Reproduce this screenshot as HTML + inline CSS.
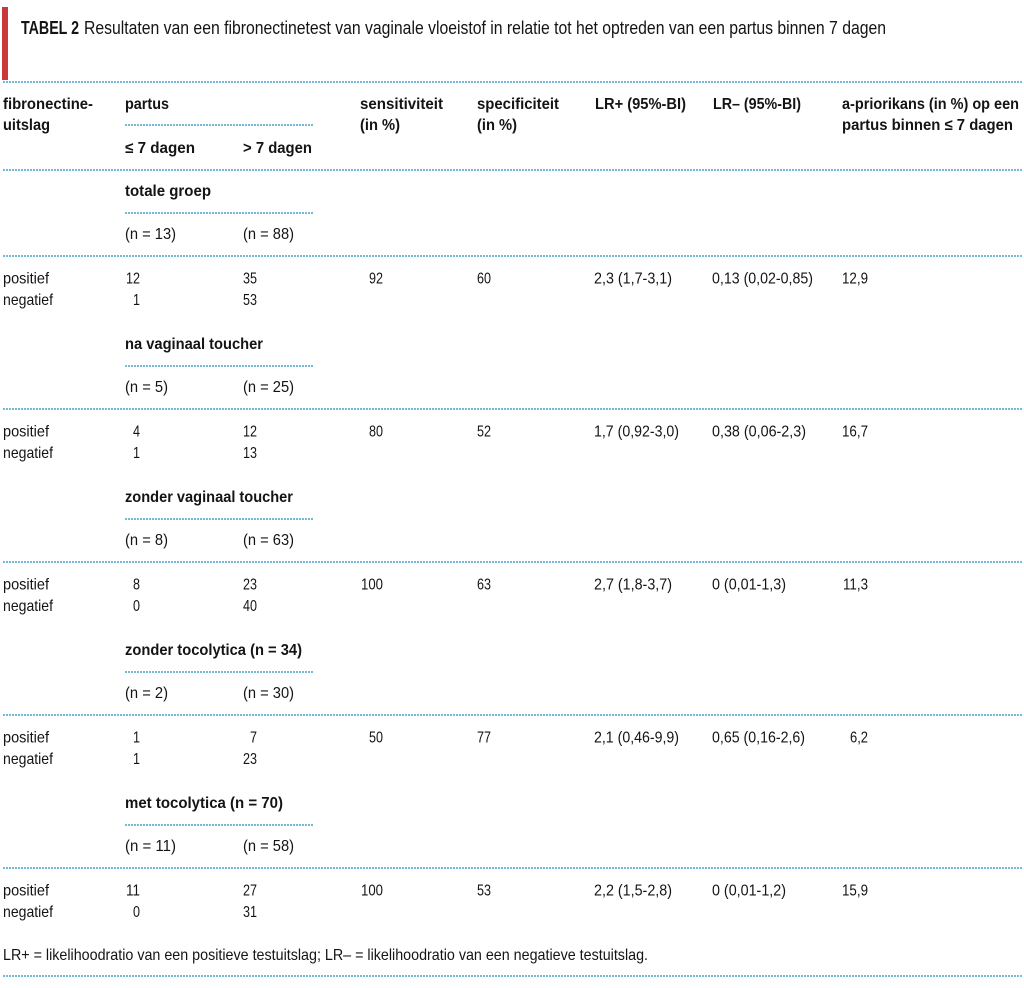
<!DOCTYPE html>
<html><head><meta charset="utf-8"><style>
html,body{margin:0;padding:0;background:#fff;}
svg{display:block;}
text{font-family:"Liberation Sans Narrow","Liberation Sans",sans-serif;fill:#141414;font-size:16px;}
.b{font-weight:bold;font-size:15.5px;}
.t{font-size:18px;}
.d{stroke:#3e9fc3;stroke-width:1.9;stroke-dasharray:0 3;stroke-linecap:round;fill:none;}
</style></head><body>
<svg width="1024" height="988" viewBox="0 0 1024 988" xmlns="http://www.w3.org/2000/svg">
<rect x="2" y="7" width="6" height="73" fill="#c9383a"/>
<text class="t b" x="21" y="34" textLength="58" lengthAdjust="spacingAndGlyphs" style="font-size:18px">TABEL 2</text>
<text class="t" x="84" y="34" textLength="802" lengthAdjust="spacingAndGlyphs">Resultaten van een fibronectinetest van vaginale vloeistof in relatie tot het optreden van een partus binnen 7 dagen</text>

<!-- full-width dotted lines -->
<line class="d" x1="4" y1="82" x2="1024" y2="82"/>
<line class="d" x1="4" y1="170" x2="1024" y2="170"/>
<line class="d" x1="4" y1="256" x2="1024" y2="256"/>
<line class="d" x1="4" y1="409" x2="1024" y2="409"/>
<line class="d" x1="4" y1="562" x2="1024" y2="562"/>
<line class="d" x1="4" y1="715" x2="1024" y2="715"/>
<line class="d" x1="4" y1="868" x2="1024" y2="868"/>
<line class="d" x1="4" y1="976" x2="1024" y2="976"/>
<!-- sub lines -->
<line class="d" x1="126" y1="125" x2="314" y2="125"/>
<line class="d" x1="126" y1="213" x2="314" y2="213"/>
<line class="d" x1="126" y1="366" x2="314" y2="366"/>
<line class="d" x1="126" y1="519" x2="314" y2="519"/>
<line class="d" x1="126" y1="672" x2="314" y2="672"/>
<line class="d" x1="126" y1="825" x2="314" y2="825"/>

<!-- header -->
<text class="b" x="3" y="109" textLength="90" lengthAdjust="spacingAndGlyphs">fibronectine-</text>
<text class="b" x="3" y="130" textLength="47" lengthAdjust="spacingAndGlyphs">uitslag</text>
<text class="b" x="125" y="109" textLength="44" lengthAdjust="spacingAndGlyphs">partus</text>
<text class="b" x="125" y="153" textLength="70" lengthAdjust="spacingAndGlyphs">≤ 7 dagen</text>
<text class="b" x="243" y="153" textLength="69" lengthAdjust="spacingAndGlyphs">&gt; 7 dagen</text>
<text class="b" x="360" y="109" textLength="83" lengthAdjust="spacingAndGlyphs">sensitiviteit</text>
<text class="b" x="360" y="130" textLength="40" lengthAdjust="spacingAndGlyphs">(in %)</text>
<text class="b" x="477" y="109" textLength="82" lengthAdjust="spacingAndGlyphs">specificiteit</text>
<text class="b" x="477" y="130" textLength="40" lengthAdjust="spacingAndGlyphs">(in %)</text>
<text class="b" x="595" y="109" textLength="91" lengthAdjust="spacingAndGlyphs">LR+ (95%-BI)</text>
<text class="b" x="713" y="109" textLength="88" lengthAdjust="spacingAndGlyphs">LR– (95%-BI)</text>
<text class="b" x="842" y="109" textLength="177" lengthAdjust="spacingAndGlyphs">a-priorikans (in %) op een</text>
<text class="b" x="842" y="130" textLength="171" lengthAdjust="spacingAndGlyphs">partus binnen ≤ 7 dagen</text>

<!-- group 1 -->
<text class="b" x="125" y="196" textLength="86" lengthAdjust="spacingAndGlyphs">totale groep</text>
<text x="125" y="239" textLength="51" lengthAdjust="spacingAndGlyphs">(n = 13)</text>
<text x="243" y="239" textLength="51" lengthAdjust="spacingAndGlyphs">(n = 88)</text>
<text x="3" y="283.5" textLength="46" lengthAdjust="spacingAndGlyphs">positief</text>
<text x="3" y="305" textLength="50" lengthAdjust="spacingAndGlyphs">negatief</text>
<text x="140" y="283.5" text-anchor="end" textLength="14" lengthAdjust="spacingAndGlyphs">12</text>
<text x="140" y="305" text-anchor="end" textLength="7" lengthAdjust="spacingAndGlyphs">1</text>
<text x="257" y="283.5" text-anchor="end" textLength="14" lengthAdjust="spacingAndGlyphs">35</text>
<text x="257" y="305" text-anchor="end" textLength="14" lengthAdjust="spacingAndGlyphs">53</text>
<text x="383" y="283.5" text-anchor="end" textLength="14" lengthAdjust="spacingAndGlyphs">92</text>
<text x="477" y="283.5" textLength="14" lengthAdjust="spacingAndGlyphs">60</text>
<text x="594" y="283.5" textLength="78" lengthAdjust="spacingAndGlyphs">2,3 (1,7-3,1)</text>
<text x="712" y="283.5" textLength="101" lengthAdjust="spacingAndGlyphs">0,13 (0,02-0,85)</text>
<text x="868" y="283.5" text-anchor="end" textLength="26" lengthAdjust="spacingAndGlyphs">12,9</text>

<!-- group 2 -->
<text class="b" x="125" y="349" textLength="138" lengthAdjust="spacingAndGlyphs">na vaginaal toucher</text>
<text x="125" y="392" textLength="43" lengthAdjust="spacingAndGlyphs">(n = 5)</text>
<text x="243" y="392" textLength="51" lengthAdjust="spacingAndGlyphs">(n = 25)</text>
<text x="3" y="436.5" textLength="46" lengthAdjust="spacingAndGlyphs">positief</text>
<text x="3" y="458" textLength="50" lengthAdjust="spacingAndGlyphs">negatief</text>
<text x="140" y="436.5" text-anchor="end" textLength="7" lengthAdjust="spacingAndGlyphs">4</text>
<text x="140" y="458" text-anchor="end" textLength="7" lengthAdjust="spacingAndGlyphs">1</text>
<text x="257" y="436.5" text-anchor="end" textLength="14" lengthAdjust="spacingAndGlyphs">12</text>
<text x="257" y="458" text-anchor="end" textLength="14" lengthAdjust="spacingAndGlyphs">13</text>
<text x="383" y="436.5" text-anchor="end" textLength="14" lengthAdjust="spacingAndGlyphs">80</text>
<text x="477" y="436.5" textLength="14" lengthAdjust="spacingAndGlyphs">52</text>
<text x="594" y="436.5" textLength="85" lengthAdjust="spacingAndGlyphs">1,7 (0,92-3,0)</text>
<text x="712" y="436.5" textLength="94" lengthAdjust="spacingAndGlyphs">0,38 (0,06-2,3)</text>
<text x="868" y="436.5" text-anchor="end" textLength="26" lengthAdjust="spacingAndGlyphs">16,7</text>

<!-- group 3 -->
<text class="b" x="125" y="502" textLength="168" lengthAdjust="spacingAndGlyphs">zonder vaginaal toucher</text>
<text x="125" y="545" textLength="43" lengthAdjust="spacingAndGlyphs">(n = 8)</text>
<text x="243" y="545" textLength="51" lengthAdjust="spacingAndGlyphs">(n = 63)</text>
<text x="3" y="589.5" textLength="46" lengthAdjust="spacingAndGlyphs">positief</text>
<text x="3" y="611" textLength="50" lengthAdjust="spacingAndGlyphs">negatief</text>
<text x="140" y="589.5" text-anchor="end" textLength="7" lengthAdjust="spacingAndGlyphs">8</text>
<text x="140" y="611" text-anchor="end" textLength="7" lengthAdjust="spacingAndGlyphs">0</text>
<text x="257" y="589.5" text-anchor="end" textLength="14" lengthAdjust="spacingAndGlyphs">23</text>
<text x="257" y="611" text-anchor="end" textLength="14" lengthAdjust="spacingAndGlyphs">40</text>
<text x="383" y="589.5" text-anchor="end" textLength="22" lengthAdjust="spacingAndGlyphs">100</text>
<text x="477" y="589.5" textLength="14" lengthAdjust="spacingAndGlyphs">63</text>
<text x="594" y="589.5" textLength="78" lengthAdjust="spacingAndGlyphs">2,7 (1,8-3,7)</text>
<text x="712" y="589.5" textLength="74" lengthAdjust="spacingAndGlyphs">0 (0,01-1,3)</text>
<text x="868" y="589.5" text-anchor="end" textLength="25" lengthAdjust="spacingAndGlyphs">11,3</text>

<!-- group 4 -->
<text class="b" x="125" y="655" textLength="177" lengthAdjust="spacingAndGlyphs">zonder tocolytica (n = 34)</text>
<text x="125" y="698" textLength="43" lengthAdjust="spacingAndGlyphs">(n = 2)</text>
<text x="243" y="698" textLength="51" lengthAdjust="spacingAndGlyphs">(n = 30)</text>
<text x="3" y="742.5" textLength="46" lengthAdjust="spacingAndGlyphs">positief</text>
<text x="3" y="764" textLength="50" lengthAdjust="spacingAndGlyphs">negatief</text>
<text x="140" y="742.5" text-anchor="end" textLength="7" lengthAdjust="spacingAndGlyphs">1</text>
<text x="140" y="764" text-anchor="end" textLength="7" lengthAdjust="spacingAndGlyphs">1</text>
<text x="257" y="742.5" text-anchor="end" textLength="7" lengthAdjust="spacingAndGlyphs">7</text>
<text x="257" y="764" text-anchor="end" textLength="14" lengthAdjust="spacingAndGlyphs">23</text>
<text x="383" y="742.5" text-anchor="end" textLength="14" lengthAdjust="spacingAndGlyphs">50</text>
<text x="477" y="742.5" textLength="14" lengthAdjust="spacingAndGlyphs">77</text>
<text x="594" y="742.5" textLength="85" lengthAdjust="spacingAndGlyphs">2,1 (0,46-9,9)</text>
<text x="712" y="742.5" textLength="93" lengthAdjust="spacingAndGlyphs">0,65 (0,16-2,6)</text>
<text x="868" y="742.5" text-anchor="end" textLength="18" lengthAdjust="spacingAndGlyphs">6,2</text>

<!-- group 5 -->
<text class="b" x="125" y="808" textLength="158" lengthAdjust="spacingAndGlyphs">met tocolytica (n = 70)</text>
<text x="125" y="851" textLength="51" lengthAdjust="spacingAndGlyphs">(n = 11)</text>
<text x="243" y="851" textLength="51" lengthAdjust="spacingAndGlyphs">(n = 58)</text>
<text x="3" y="895.5" textLength="46" lengthAdjust="spacingAndGlyphs">positief</text>
<text x="3" y="917" textLength="50" lengthAdjust="spacingAndGlyphs">negatief</text>
<text x="140" y="895.5" text-anchor="end" textLength="14" lengthAdjust="spacingAndGlyphs">11</text>
<text x="140" y="917" text-anchor="end" textLength="7" lengthAdjust="spacingAndGlyphs">0</text>
<text x="257" y="895.5" text-anchor="end" textLength="14" lengthAdjust="spacingAndGlyphs">27</text>
<text x="257" y="917" text-anchor="end" textLength="14" lengthAdjust="spacingAndGlyphs">31</text>
<text x="383" y="895.5" text-anchor="end" textLength="22" lengthAdjust="spacingAndGlyphs">100</text>
<text x="477" y="895.5" textLength="14" lengthAdjust="spacingAndGlyphs">53</text>
<text x="594" y="895.5" textLength="78" lengthAdjust="spacingAndGlyphs">2,2 (1,5-2,8)</text>
<text x="712" y="895.5" textLength="74" lengthAdjust="spacingAndGlyphs">0 (0,01-1,2)</text>
<text x="868" y="895.5" text-anchor="end" textLength="26" lengthAdjust="spacingAndGlyphs">15,9</text>

<!-- footnote -->
<text x="3" y="960" textLength="645" lengthAdjust="spacingAndGlyphs">LR+ = likelihoodratio van een positieve testuitslag; LR– = likelihoodratio van een negatieve testuitslag.</text>
</svg>
</body></html>
